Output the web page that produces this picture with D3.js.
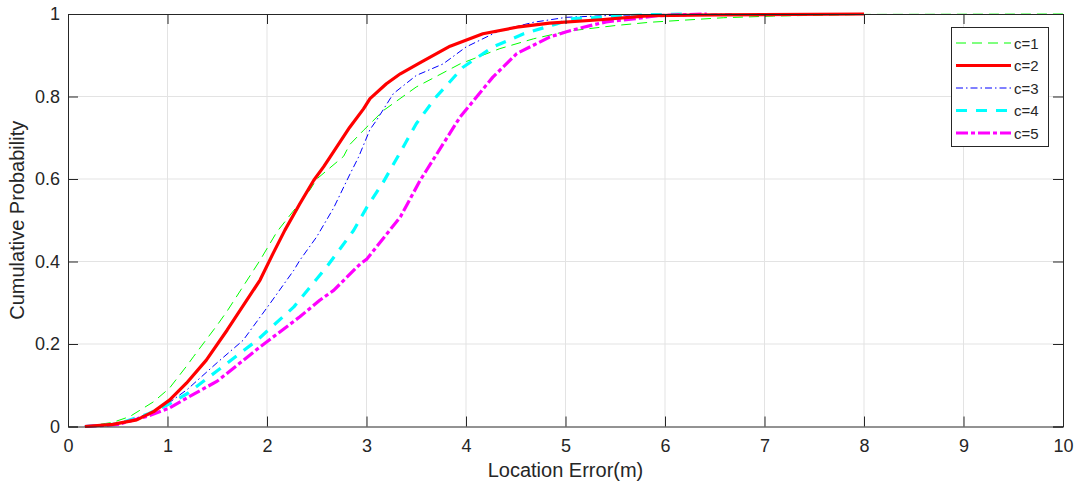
<!DOCTYPE html>
<html>
<head>
<meta charset="utf-8">
<script src="https://cdn.jsdelivr.net/npm/d3@7"></script>
<style>
  html, body { margin: 0; padding: 0; background: #fff; }
  svg { display: block; }
  text { font-family: "Liberation Sans", Arial, Helvetica, sans-serif; fill: #262626; }
</style>
</head>
<body>
<svg id="chart" width="1082" height="483"></svg>
<script>
// ---- Data ----
const seriesNames = ["c=1", "c=2", "c=3", "c=4", "c=5"];

const c1x = [0.17, 0.45, 0.62, 0.86, 1.02, 1.2, 1.26, 1.5, 1.6, 1.93, 2.1, 2.43, 2.5, 2.77, 2.83, 2.97, 3.17, 3.5, 3.94, 4.34, 4.68, 5.01, 5.5, 5.85, 6.59, 7.09, 8.0, 10];
const c1y = [0, 0.01, 0.024, 0.06, 0.093, 0.149, 0.169, 0.246, 0.28, 0.403, 0.472, 0.573, 0.60, 0.655, 0.683, 0.718, 0.766, 0.823, 0.879, 0.916, 0.94, 0.958, 0.972, 0.98, 0.991, 0.995, 0.999, 1.0];

const c2x = [0.17, 0.45, 0.69, 0.86, 1.02, 1.19, 1.39, 1.6, 1.93, 2.06, 2.18, 2.33, 2.47, 2.57, 2.63, 2.83, 2.97, 3.035, 3.2, 3.34, 3.54, 3.84, 4.17, 4.51, 4.84, 5.35, 5.85, 6.5, 8.0];
const c2y = [0, 0.005, 0.016, 0.036, 0.064, 0.105, 0.161, 0.234, 0.355, 0.419, 0.476, 0.54, 0.597, 0.63, 0.652, 0.725, 0.77, 0.795, 0.831, 0.855, 0.882, 0.922, 0.952, 0.968, 0.978, 0.986, 0.996, 0.998, 1.0];

const c3x = [0.17, 0.5, 0.8, 1.0, 1.2, 1.5, 1.76, 2.03, 2.27, 2.33, 2.5, 2.67, 2.83, 2.92, 3.035, 3.1, 3.27, 3.5, 3.77, 4.0, 4.34, 4.68, 5.01, 5.5, 6.7];
const c3y = [0, 0.006, 0.03, 0.055, 0.09, 0.155, 0.209, 0.298, 0.379, 0.403, 0.46, 0.53, 0.61, 0.653, 0.72, 0.742, 0.807, 0.851, 0.879, 0.92, 0.96, 0.98, 0.992, 0.997, 1.0];

const c4x = [0.17, 0.5, 0.8, 1.02, 1.2, 1.5, 1.9, 2.27, 2.6, 2.87, 3.0, 3.17, 3.34, 3.5, 3.7, 3.97, 4.27, 4.58, 4.91, 5.08, 5.35, 5.8, 6.2];
const c4y = [0, 0.006, 0.03, 0.055, 0.08, 0.135, 0.209, 0.29, 0.387, 0.475, 0.53, 0.593, 0.665, 0.734, 0.799, 0.871, 0.92, 0.952, 0.976, 0.989, 0.992, 0.998, 1.0];

const c5x = [0.17, 0.5, 0.8, 1.02, 1.2, 1.5, 1.93, 2.33, 2.53, 2.67, 2.94, 3.0, 3.34, 3.54, 3.6, 3.77, 3.94, 4.27, 4.51, 4.84, 5.01, 5.18, 5.41, 5.68, 5.92, 6.42];
const c5y = [0, 0.005, 0.025, 0.045, 0.07, 0.11, 0.193, 0.266, 0.306, 0.33, 0.395, 0.405, 0.508, 0.597, 0.62, 0.685, 0.75, 0.847, 0.904, 0.944, 0.957, 0.968, 0.981, 0.988, 0.996, 1.0];

const xTicks = [0, 1, 2, 3, 4, 5, 6, 7, 8, 9, 10];
const yTicks = [0, 0.2, 0.4, 0.6, 0.8, 1];
const yTickLabels = ["0", "0.2", "0.4", "0.6", "0.8", "1"];

// ---- Layout / styles ----
const styles = [
  { color: "#00ff00", width: 1,   dash: "10,6" },
  { color: "#ff0000", width: 3.2, dash: null },
  { color: "#0000ff", width: 1,   dash: "7,3,1.5,3" },
  { color: "#00ffff", width: 3.2, dash: "11,9" },
  { color: "#ff00ff", width: 3.2, dash: "12,3,4,3" }
];
const xs = [c1x, c2x, c3x, c4x, c5x];
const ys = [c1y, c2y, c3y, c4y, c5y];

const mLeft = 68, mRight = 1063, mTop = 14, mBottom = 426.5;
const svg = d3.select("#chart");
const x = d3.scaleLinear().domain([0, 10]).range([mLeft, mRight]);
const y = d3.scaleLinear().domain([0, 1]).range([mBottom, mTop]);

// grid
const grid = svg.append("g");
grid.selectAll("line.gx").data(xTicks.slice(1, -1)).enter().append("line")
  .attr("x1", d => x(d)).attr("x2", d => x(d)).attr("y1", mTop).attr("y2", mBottom)
  .attr("stroke", "#e3e3e3").attr("stroke-width", 1);
grid.selectAll("line.gy").data(yTicks.slice(1, -1)).enter().append("line")
  .attr("x1", mLeft).attr("x2", mRight).attr("y1", d => y(d)).attr("y2", d => y(d))
  .attr("stroke", "#e3e3e3").attr("stroke-width", 1);

// curves
const line = d3.line().x(d => x(d[0])).y(d => y(d[1]));
const plot = svg.append("g");
[0, 2, 3, 4, 1].forEach(i => {
  const pts = xs[i].map((v, k) => [v, ys[i][k]]);
  plot.append("path").datum(pts)
    .attr("d", line)
    .attr("fill", "none")
    .attr("stroke", styles[i].color)
    .attr("stroke-width", styles[i].width)
    .attr("stroke-dasharray", styles[i].dash)
    .attr("stroke-linejoin", "round");
});

// axes
const axB = d3.axisBottom(x).tickValues(xTicks).tickSize(-10).tickPadding(13).tickFormat(d3.format("d"));
const axT = d3.axisTop(x).tickValues(xTicks).tickSize(-10).tickFormat("");
const axL = d3.axisLeft(y).tickValues(yTicks).tickSize(-10).tickPadding(8).tickFormat((d, i) => yTickLabels[i]);
const axR = d3.axisRight(y).tickValues(yTicks).tickSize(-10).tickFormat("");

function styleAxis(g) {
  g.select(".domain").attr("stroke", "#262626").attr("stroke-width", 1);
  g.selectAll(".tick line").attr("stroke", "#262626");
  g.selectAll(".tick text").attr("font-size", 18).attr("fill", "#262626")
    .style("font-family", '"Liberation Sans", Arial, sans-serif');
}
svg.append("g").attr("transform", `translate(0,${mBottom})`).call(axB).call(styleAxis);
svg.append("g").attr("transform", `translate(0,${mTop})`).call(axT).call(styleAxis);
svg.append("g").attr("transform", `translate(${mLeft},0)`).call(axL).call(styleAxis);
svg.append("g").attr("transform", `translate(${mRight},0)`).call(axR).call(styleAxis);

// axis labels
svg.append("text").attr("x", (mLeft + mRight) / 2).attr("y", 477)
  .attr("text-anchor", "middle").attr("font-size", 20).text("Location Error(m)");
svg.append("text").attr("transform", `translate(24,${(mTop + mBottom) / 2}) rotate(-90)`)
  .attr("text-anchor", "middle").attr("font-size", 20).text("Cumulative Probability");

// legend
const lg = svg.append("g");
lg.append("rect").attr("x", 951.5).attr("y", 27.5).attr("width", 97).attr("height", 119)
  .attr("fill", "#fff").attr("stroke", "#262626").attr("stroke-width", 1);
seriesNames.forEach((name, i) => {
  const yy = 43 + i * 22.5;
  lg.append("line").attr("x1", 956).attr("x2", 1011).attr("y1", yy).attr("y2", yy)
    .attr("stroke", styles[i].color).attr("stroke-width", styles[i].width)
    .attr("stroke-dasharray", styles[i].dash);
  lg.append("text").attr("x", 1014).attr("y", yy + 5.5).attr("font-size", 15).text(name);
});
</script>
</body>
</html>
